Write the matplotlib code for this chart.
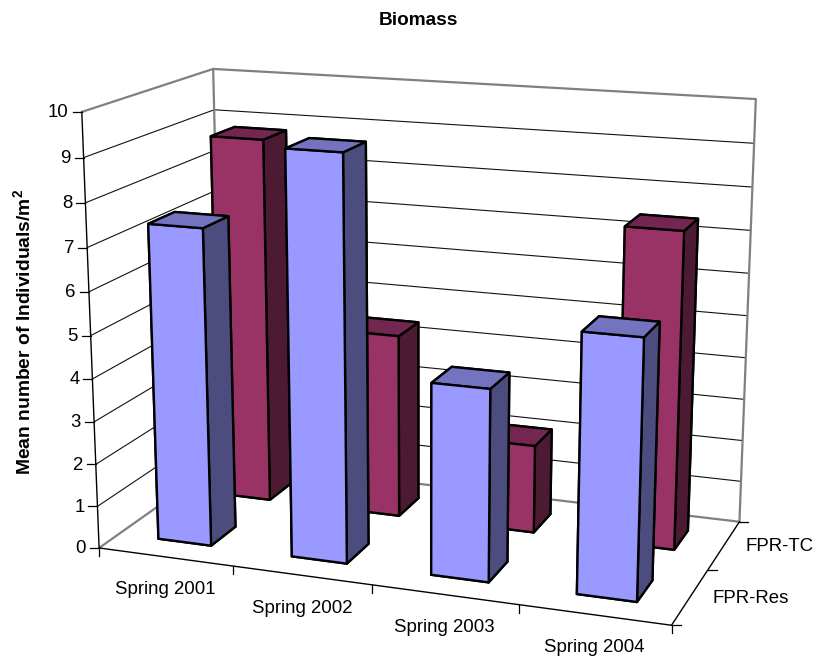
import numpy as np
import matplotlib
matplotlib.use("Agg")
import matplotlib.pyplot as plt
from matplotlib.lines import Line2D
from mpl_toolkits.mplot3d import proj3d

plt.rcParams['font.family'] = ['Liberation Sans', 'DejaVu Sans']
plt.rcParams['mathtext.default'] = 'regular'

W, H = 817, 659

# mean individuals per m2, one value per season
seasons = ["Spring 2001", "Spring 2002", "Spring 2003", "Spring 2004"]
series = ["FPR-Res", "FPR-TC"]
fpr_res = [7.4, 9.3, 4.4, 5.85]
fpr_tc = [8.8, 4.4, 2.1, 7.4]
z_ticks = list(range(0, 11))

# front, top and right side colours of each series
res_colors = ["#9999FF", "#7373BF", "#4C4C7F"]
tc_colors = ["#993366", "#732650", "#4D1A33"]

GREY = "#808080"
TEXT = 13.45


def face_colors(c):
    # bar3d order is -z, +z, -y, +y, -x, +x
    front, top, side = c
    return [front, top, front, front, front, side]


fig = plt.figure(figsize=(W / 100, H / 100), dpi=100)

# camera box: scale and offset in pixels per unit of projected view
scale, off_x, off_y = 2240.77, 424.54, 325.51
side_px = scale * 0.185
left = off_x - 0.095 * scale
bottom = H - (off_y + 0.095 * scale)
ax = fig.add_axes([left / W, bottom / H, side_px / W, side_px / H], projection='3d')
ax.set_axis_off()
ax.computed_zorder = False
ax.set_xlim(0, 4)
ax.set_ylim(0, 2)
ax.set_zlim(0, 10)
ax.view_init(elev=14.988, azim=-70.154, roll=-0.013)
ax.set_box_aspect((1, 0.5003, 0.7511), zoom=1.8651)
ax.patch.set_visible(False)


def edge(xs, ys, zs, color="black", lw=1.0, zorder=1):
    ax.plot(xs, ys, zs, color=color, lw=lw, zorder=zorder, clip_on=False,
            solid_capstyle='round')


def anchor(x, y, z):
    # figure pixel position (origin top left) of a point in the chart box
    u, v, _ = proj3d.proj_transform(np.array([float(x)]), np.array([float(y)]),
                                    np.array([float(z)]), ax.get_proj())
    px = ax.transData.transform((u[0], v[0]))
    return px[0], H - px[1]


def label(px, py, s, size=TEXT, **kw):
    fig.text(px / W, 1 - py / H, s, fontsize=size, color="black", **kw)


def tick(px, py, dx, dy):
    fig.add_artist(Line2D([px / W, (px + dx) / W],
                          [1 - py / H, 1 - (py + dy) / H],
                          color="black", lw=0.9))


# walls: gridlines first, then the grey outline
for z in z_ticks[1:-1]:
    edge([0, 0], [0, 2], [z, z], color="#111111", lw=0.8)
    edge([0, 4], [2, 2], [z, z], color="#111111", lw=0.8)
edge([0, 0, 4, 4], [0, 2, 2, 2], [10, 10, 10, 0], color=GREY, lw=1.6)
edge([0, 0], [2, 2], [0, 10], color=GREY, lw=1.6)
edge([0, 0, 4], [0, 2, 2], [0, 0, 0], color=GREY, lw=1.6)

# axis lines
edge([0, 0], [0, 0], [0, 10], lw=1.0, zorder=2)
edge([0, 4], [0, 0], [0, 0], lw=1.0, zorder=2)
edge([4, 4], [0, 2], [0, 0], lw=1.0, zorder=2)

# back row first so the front row overlaps it
order = 3
for row, vals, colors in [(1, fpr_tc, tc_colors), (0, fpr_res, res_colors)]:
    for i, v in enumerate(vals):
        bars = ax.bar3d(i + 0.3, row + 0.3, 0, 0.4, 0.4, v,
                        color=face_colors(colors), edgecolor="black",
                        linewidth=1.7, shade=False, zorder=order)
        bars.set_clip_on(False)
        order += 1

ax.set_xlim(0, 4)
ax.set_ylim(0, 2)
ax.set_zlim(0, 10)

for z in z_ticks:
    px, py = anchor(0, 0, z)
    tick(px, py, -9, 0)
    label(px - 13, py + 1, str(z), ha='right', va='center')

for i in range(len(seasons) + 1):
    px, py = anchor(i, 0, 0)
    tick(px, py, 0, 8)

for i, s in enumerate(seasons):
    px, py = anchor(i + 0.5, 0, 0)
    label(px, py + 33, s, ha='center', va='center')

for j in range(len(series) + 1):
    px, py = anchor(4, j, 0)
    tick(px, py, 9, 0)

for j, s in enumerate(series):
    px, py = anchor(4, j + 0.5, 0)
    label(px + 22, py + 1.5, s, ha='left', va='center')

label(418, 20.5, "Biomass", size=13.7, ha='center', va='center', fontweight='bold')
label(23, 332, "Mean number of Individuals/m$^{2}$", size=13.9, ha='center',
      va='center', rotation=90, fontweight='bold')

fig.savefig("out.png", dpi=100)
